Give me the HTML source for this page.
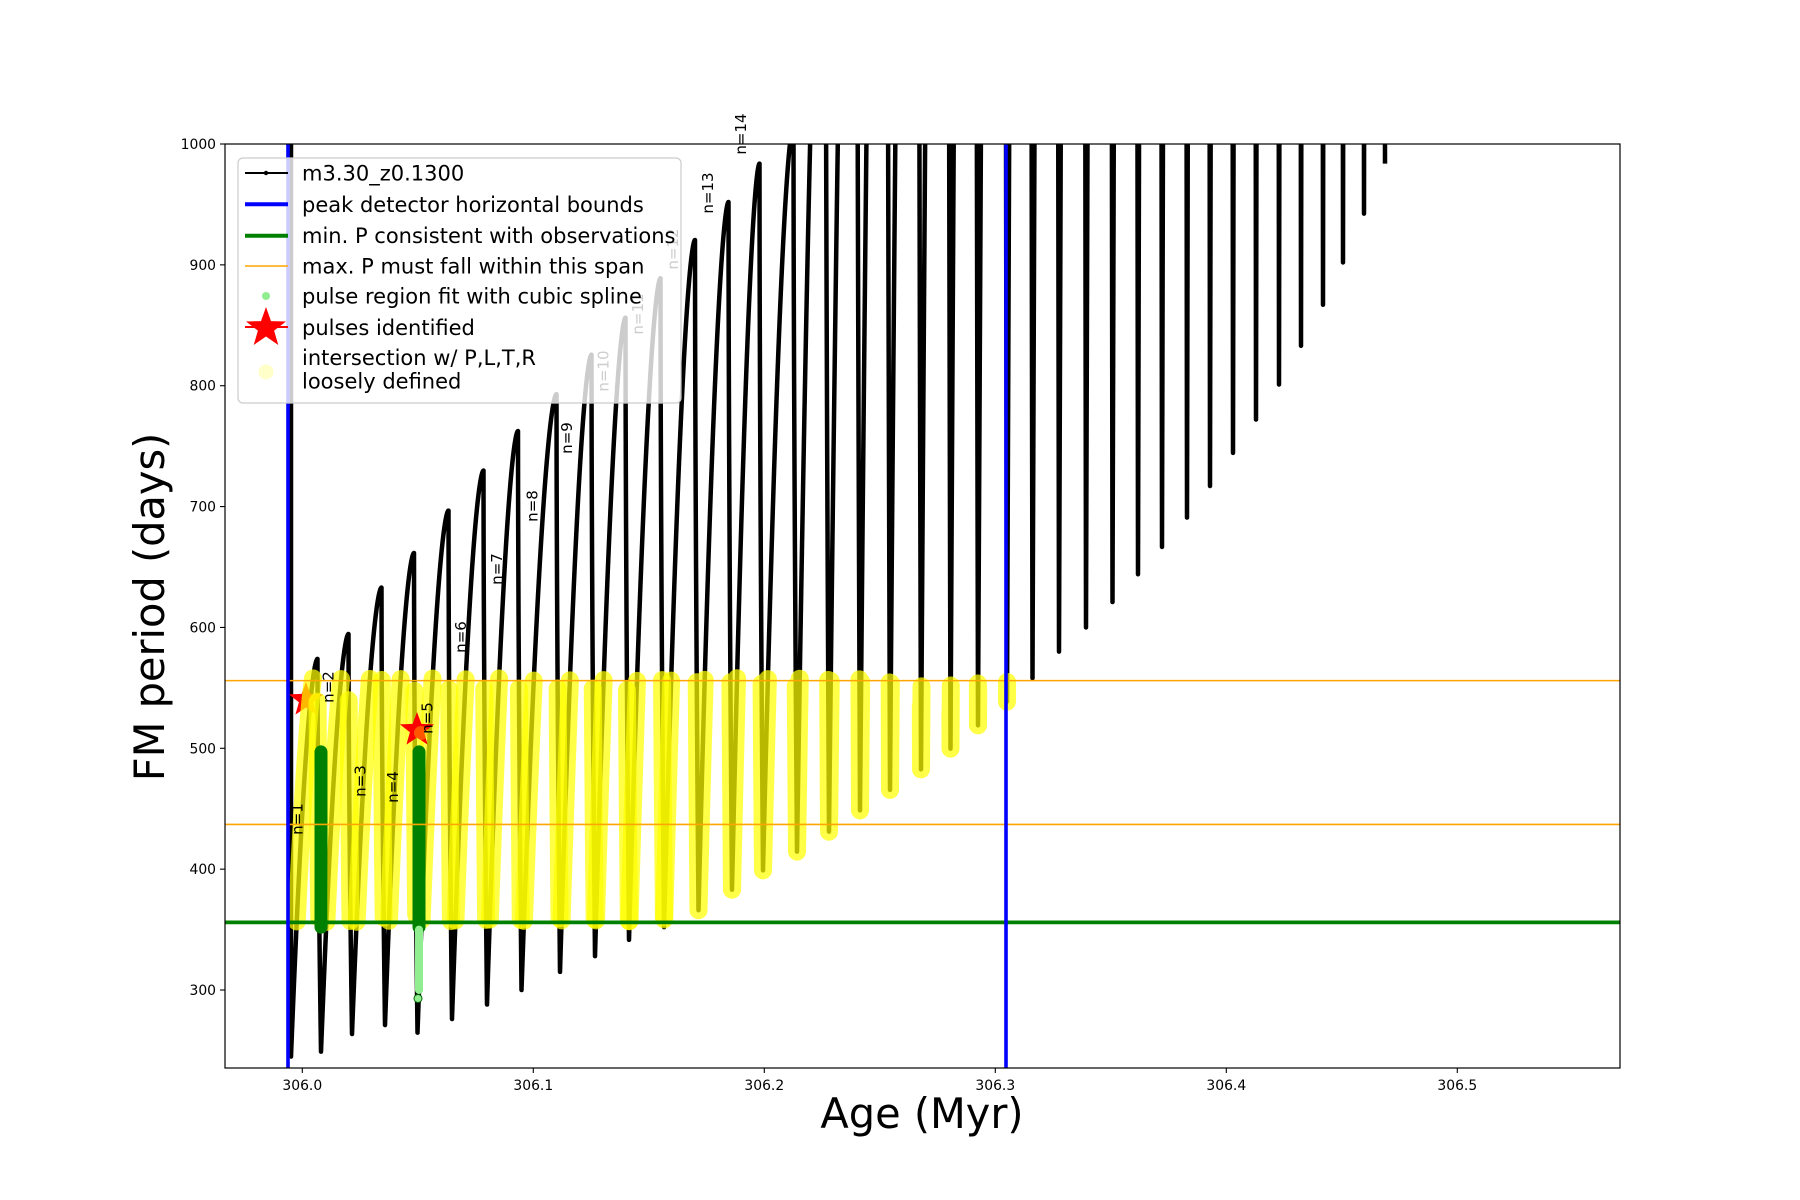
<!DOCTYPE html>
<html><head><meta charset="utf-8">
<style>
html,body{margin:0;padding:0;background:#fff;}
svg{display:block;font-family:"DejaVu Sans","Liberation Sans",sans-serif;}
</style></head>
<body>
<svg id="s" width="1800" height="1200" viewBox="0 0 1800 1200" xmlns="http://www.w3.org/2000/svg">
<defs><clipPath id="c"><rect x="225" y="144" width="1395" height="924"/></clipPath></defs>
<rect width="1800" height="1200" fill="#fff"/>
<g id="plot" clip-path="url(#c)"></g>
<g id="over"></g>
</svg>
<script>
var NS="http://www.w3.org/2000/svg";
function el(p,n,a,t){var e=document.createElementNS(NS,n);for(var k in a)e.setAttribute(k,a[k]);if(t!=null)e.textContent=t;p.appendChild(e);return e;}
function Y(v){return 144+(1000-v)*1.2086;}
function X(a){return 302.3+(a-306)*2310;}
var plot=document.getElementById('plot'),over=document.getElementById('over');
var S=[291,321,352,385,417.5,452,487,521.5,560,595,629,664,698.5,732,763,797,829,860,890,921,950.5,978,1007,1032.5,1059,1086,1112.5,1138,1162,1187,1210,1233,1256,1279,1301,1323,1343,1364,1385];
var M=[245,249,263.6,271,264.7,276,288,300,315,328,341.5,352,366,383,399,414.5,431,448.6,465.6,482.6,499.7,519,538.6,558,580,600,621,644,666.6,690.9,717,744.4,772,801,833,867,902,942.4,983.8];
var P=[0,574,594.6,633,661.6,696.7,729.8,762.5,793,825.7,856.3,888.9,920.6,952,983.8,1016];
for(var i=16;i<S.length;i++)P[i]=1016+(i-15)*300;
var pts=[];
pts.push([S[0],1010]);pts.push([S[0],M[0]]);
for(var k=0;k<S.length-1;k++){
  var x0=S[k],m=M[k],pk=S[k+1]-3.5,Pv=P[k+1];
  var N=300;
  for(var j=1;j<=N;j++){var t=j/N;var f=1-Math.pow(1-t,1.7);pts.push([x0+(pk-x0)*t,m+(Pv-m)*f]);}
  var x1=S[k+1];
  for(var j=1;j<=40;j++){var t=j/40;var tt=Math.pow(t,0.6);pts.push([pk+(x1-pk)*t,Pv+(M[k+1]-Pv)*tt]);}
}
function clampPts(a){var r=[];for(var i=0;i<a.length;i++){var v=Math.min(a[i][1],1030);r.push(a[i][0].toFixed(2)+','+Y(v).toFixed(2));}return r.join(' ');}
el(plot,'polyline',{points:clampPts(pts),fill:'none',stroke:'#000','stroke-width':4.5,'stroke-linejoin':'round'});
function star(g,cx,cy,R,r,attrs){var s=[];for(var i=0;i<10;i++){var a=-Math.PI/2+i*Math.PI/5;var rr=i%2?r:R;s.push((cx+rr*Math.cos(a)).toFixed(1)+','+(cy+rr*Math.sin(a)).toFixed(1));}attrs.points=s.join(' ');return el(g,'polygon',attrs);}
star(plot,306,700,18,7.5,{fill:'#ff0000'});
var run=[];
function flush(){if(run.length>1)el(plot,'polyline',{points:run.join(' '),fill:'none',stroke:'#ffff00','stroke-opacity':0.72,'stroke-width':18,'stroke-linecap':'round','stroke-linejoin':'round'});run=[];}
for(var i=0;i<pts.length;i++){var p=pts[i];if(p[1]>=356&&p[1]<=558&&p[0]>=287&&p[0]<=1009){run.push(p[0].toFixed(2)+','+Y(p[1]).toFixed(2));}else flush();}
flush();
star(plot,417,730,18,7.5,{fill:'#ff0000'});
el(plot,'circle',{cx:421,cy:733,r:7,fill:'#ffaa00','fill-opacity':0.5});
el(plot,'line',{x1:321,y1:Y(497),x2:321,y2:Y(352),stroke:'#008000','stroke-width':13,'stroke-linecap':'round'});
el(plot,'line',{x1:419,y1:Y(497),x2:419,y2:Y(352),stroke:'#008000','stroke-width':13,'stroke-linecap':'round'});
el(plot,'line',{x1:419,y1:Y(350),x2:419,y2:Y(300),stroke:'#90ee90','stroke-width':8,'stroke-linecap':'round'});
el(plot,'circle',{cx:418,cy:Y(293),r:4,fill:'#90ee90',stroke:'#006400','stroke-width':1});
el(plot,'line',{x1:225,x2:1620,y1:Y(556),y2:Y(556),stroke:'#ffa500','stroke-width':1.6});
el(plot,'line',{x1:225,x2:1620,y1:Y(437),y2:Y(437),stroke:'#ffa500','stroke-width':1.6});
el(plot,'line',{x1:225,x2:1620,y1:Y(356),y2:Y(356),stroke:'#008000','stroke-width':3.8});
el(plot,'line',{x1:288,x2:288,y1:144,y2:1068,stroke:'#0000ff','stroke-width':3.6});
el(plot,'line',{x1:1006,x2:1006,y1:144,y2:1068,stroke:'#0000ff','stroke-width':3.6});
var L=[[297.3,819,'n=1'],[328.6,687,'n=2'],[360.6,781,'n=3'],[393,787,'n=4'],[427.4,718,'n=5'],[461,637,'n=6'],[497,569,'n=7'],[532.5,506,'n=8'],[567,438,'n=9'],[603.7,371,'n=10'],[638,314,'n=11'],[673,249,'n=12'],[708,193,'n=13'],[741,134,'n=14']];
L.forEach(function(l){el(over,'text',{x:0,y:0,'font-size':15,'text-anchor':'middle','dominant-baseline':'central',transform:'translate('+l[0]+','+l[1]+') rotate(-90)'},l[2]);});
el(over,'rect',{x:225,y:144,width:1395,height:924,fill:'none',stroke:'#000','stroke-width':1.2});
for(var v=300;v<=1000;v+=100){var y=Y(v);el(over,'line',{x1:220,x2:225,y1:y,y2:y,stroke:'#000','stroke-width':1.1});el(over,'text',{x:216,y:y+5,'font-size':13.9,'text-anchor':'end'},String(v));}
for(var a=0;a<=5;a++){var x=X(306+a*0.1);el(over,'line',{x1:x,x2:x,y1:1068,y2:1073,stroke:'#000','stroke-width':1.1});el(over,'text',{x:x,y:1090,'font-size':13.9,'text-anchor':'middle'},(306+a*0.1).toFixed(1));}
el(over,'text',{x:922,y:1128,'font-size':41.5,'text-anchor':'middle'},'Age (Myr)');
el(over,'text',{x:0,y:0,'font-size':41.5,'text-anchor':'middle',transform:'translate(164,607) rotate(-90)'},'FM period (days)');
el(over,'rect',{x:238,y:158,width:443,height:245,rx:5,fill:'#fff','fill-opacity':0.8,stroke:'#cccccc','stroke-width':1.2});
el(over,'line',{x1:245,x2:288,y1:173,y2:173,stroke:'#000','stroke-width':2});
el(over,'circle',{cx:266,cy:173,r:2.2,fill:'#000'});
el(over,'line',{x1:245,x2:288,y1:204.3,y2:204.3,stroke:'#0000ff','stroke-width':4});
el(over,'line',{x1:245,x2:288,y1:235.7,y2:235.7,stroke:'#008000','stroke-width':4});
el(over,'line',{x1:245,x2:288,y1:266,y2:266,stroke:'#ffa500','stroke-width':1.6});
el(over,'circle',{cx:266,cy:296,r:4,fill:'#90ee90'});
star(over,266,328,21,8.5,{fill:'#ff0000'});
el(over,'line',{x1:245,x2:288,y1:327,y2:327,stroke:'#ff0000','stroke-width':2});
el(over,'circle',{cx:266,cy:372,r:7.5,fill:'#ffff66','fill-opacity':0.35});
var T=[[173,'m3.30_z0.1300'],[204.3,'peak detector horizontal bounds'],[235.7,'min. P consistent with observations'],[266,'max. P must fall within this span'],[296,'pulse region fit with cubic spline'],[327.4,'pulses identified'],[357.6,'intersection w/ P,L,T,R'],[380.8,'loosely defined']];
T.forEach(function(t){el(over,'text',{x:302,y:t[0]+7.5,'font-size':21},t[1]);});
</script>
</body></html>
